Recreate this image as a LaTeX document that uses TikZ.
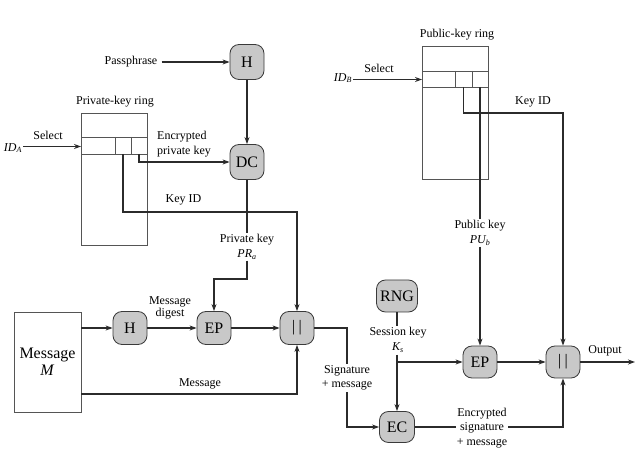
\documentclass[tikz,border=0pt]{standalone}
\usepackage{fontspec}
\setmainfont{Liberation Serif}
\usetikzlibrary{arrows.meta}
\definecolor{linec}{HTML}{2B2B2B}
\definecolor{edgec}{HTML}{3A3A3A}
\definecolor{procfill}{HTML}{C8C8C8}
\definecolor{boxc}{HTML}{555555}
\newcommand{\concat}{|\hspace{3.5pt}|}
\begin{document}
\begin{tikzpicture}[x=1pt,y=-1pt,
  wire/.style={draw=linec, line width=1.1pt},
  arr/.style={wire, -{Stealth[length=7pt,width=5pt]}},
  proc/.style={draw=edgec, fill=procfill, line width=0.8pt, rounded corners=9pt,
    minimum width=34pt, minimum height=33pt, inner sep=0pt,
    font=\fontsize{16}{16}\selectfont},
  lbl/.style={font=\fontsize{12}{14.5}\selectfont, align=center, inner sep=1pt},
  ring/.style={draw=boxc, line width=0.7pt, inner sep=0pt},
]
\useasboundingbox (0,0) rectangle (638,465);

% ---------- processing blocks ----------
\node[proc, minimum height=35pt] (H1)  at (247,62)  {H};
\node[proc, minimum height=35pt] (DC)  at (247,162) {DC};
\node[proc] (H2)  at (130,328) {H};
\node[proc] (EP1) at (214,328) {EP};
\node[proc] (C1)  at (297,328) {\concat};
\node[proc, minimum width=41pt, minimum height=32pt] (RNG) at (397,296) {RNG};
\node[proc, minimum height=32pt] (EP2) at (480,362) {EP};
\node[proc, minimum height=32pt] (C2)  at (563,362) {\concat};
\node[proc, minimum width=35pt, minimum height=31pt] (EC) at (397,427) {EC};

% ---------- private-key ring ----------
\node[ring, minimum width=66pt, minimum height=132pt] (prk) at (114,179) {};
\draw[ring] (81,137) -- (147,137);
\draw[ring] (81,154) -- (147,154);
\draw[ring] (115,137) -- (115,154);
\draw[ring] (131,137) -- (131,154);
\node[lbl] at (115,102) {Private-key ring};
\coordinate (prkin) at (81,146.5);
\coordinate (pkc2) at (123,154);
\coordinate (pkc3) at (139,154);
\coordinate (kidA) at (297,212);

\node[lbl] (ida) at (13,148) {\textit{ID\textsubscript{A}}};
\node[lbl] at (48,135) {Select};
\draw[arr] (ida.east |- prkin) -- (prkin);

\draw[arr] (pkc3) |- (DC.west);
\node[lbl, align=left, anchor=west] at (156,144) {Encrypted\\private key};
\draw[arr] (pkc2) |- (kidA) -- (C1.north);
\node[lbl] at (183.5,200) {Key ID};

% ---------- passphrase and decryption ----------
\node[lbl] (pp) at (131,62) {Passphrase};
\draw[arr] (pp.east) ++(3,0) -- (H1.west);
\draw[arr] (H1.south) -- (DC.north);
\node[lbl] (prl) at (247,247) {Private key\\\textit{PR\textsubscript{a}}};
\draw[wire] (DC.south) -- (prl.north);
\coordinate (prb) at (247,279);
\draw[arr] (prl.south) -- (prb) -| (EP1.north);

% ---------- message and signature ----------
\node[ring, minimum width=67pt, minimum height=100pt, align=center,
  font=\fontsize{16}{17}\selectfont] (msg) at (47.5,362) {Message\\\textit{M}};
\draw[arr] (msg.east |- H2.west) -- (H2.west);
\draw[arr] (H2.east) -- (EP1.west);
\node[lbl, font=\fontsize{12}{12.5}\selectfont] at (170,308) {Message\\digest};
\draw[arr] (EP1.east) -- (C1.west);
\coordinate (mline) at (81,394);
\draw[arr] (msg.east |- mline) -| (C1.south);
\node[lbl] at (200,384) {Message};

\coordinate (sigc) at (347,427);
\draw[arr] (C1.east) -| (sigc) -- (EC.west);
\node[lbl, fill=white] at (347,378) {Signature\\+ message};

% ---------- session key ----------
\node[lbl] (sk) at (398,340) {Session key\\\textit{K\textsubscript{s}}};
\draw[wire] (RNG.south) -- (RNG.south |- sk.north);
\coordinate (skb) at (397,355);
\draw[arr] (skb) |- (EP2.west);
\draw[arr] (skb) -- (EC.north);
\draw[arr] (EP2.east) -- (C2.west);
\coordinate (out) at (635,362);
\draw[arr] (C2.east) -- (out);
\node[lbl] at (605,351) {Output};
\draw[arr] (EC.east) -| (C2.south);
\node[lbl, fill=white] at (482,428) {Encrypted\\signature\\+ message};

% ---------- public-key ring ----------
\node[ring, minimum width=66pt, minimum height=133pt] (pubr) at (455,112.5) {};
\draw[ring] (422,71) -- (488,71);
\draw[ring] (422,87) -- (488,87);
\draw[ring] (455,71) -- (455,87);
\draw[ring] (472,71) -- (472,87);
\node[lbl] at (457,35) {Public-key ring};
\coordinate (pubin) at (422,79.5);
\coordinate (puc2) at (463.5,87);
\coordinate (puc3) at (480,87);
\coordinate (kidB) at (563,113);

\node[lbl] (idb) at (343,78) {\textit{ID\textsubscript{B}}};
\node[lbl] at (379,68) {Select};
\draw[arr] (idb.east |- pubin) -- (pubin);

\draw[arr] (puc2) |- (kidB) -- (C2.north);
\node[lbl] at (533,102) {Key ID};
\node[lbl] (pkl) at (480,233) {Public key\\\textit{PU\textsubscript{b}}};
\draw[wire] (puc3) -- (pkl.north);
\draw[arr] (pkl.south) -- (EP2.north);
\end{tikzpicture}
\end{document}
